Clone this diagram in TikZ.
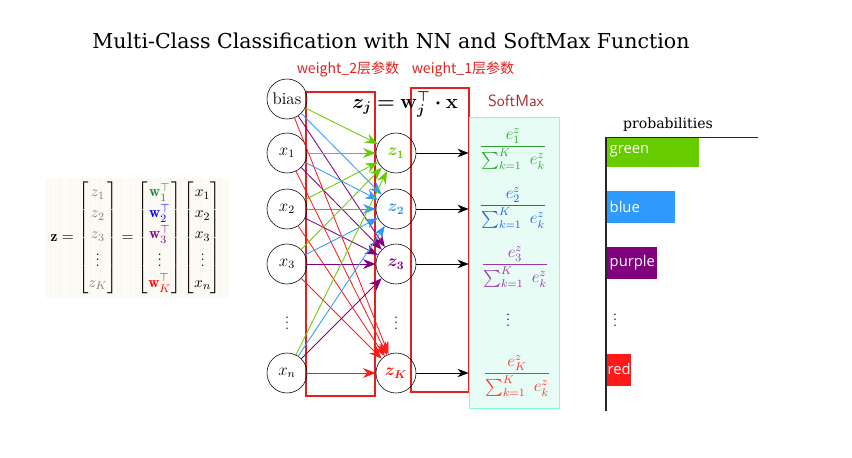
\documentclass[tikz,border=0pt]{standalone}
\usepackage{amsmath, amssymb, bm}
\usepackage{fontspec}
\newfontfamily\cjk{Noto Sans CJK SC}
\newfontfamily\slabfont{DejaVu Serif}
\newfontfamily\barfont{Open Sans}
\usetikzlibrary{arrows.meta, positioning, calc}

\definecolor{cgreen}{HTML}{66CC00}
\definecolor{cblue}{HTML}{2E9AFE}
\definecolor{cpurple}{HTML}{800080}
\definecolor{cred}{HTML}{FF1A1A}
\definecolor{boxred}{HTML}{E3201E}
\definecolor{smfill}{HTML}{E8FCF6}
\definecolor{smdraw}{HTML}{80FFD8}
\definecolor{smtitle}{HTML}{A52A2A}
\definecolor{fgreen}{HTML}{2EA62E}
\definecolor{fblue}{HTML}{2060E0}
\definecolor{fpurple}{HTML}{9A36A8}
\definecolor{fred}{HTML}{FF3030}
\definecolor{panel}{HTML}{FBFAF4}
\definecolor{panelgrid}{HTML}{F7F5EE}
\definecolor{mgreen}{HTML}{1E8C3C}

\begin{document}
\begin{tikzpicture}[x=0.025cm, y=-0.025cm,
  neuron/.style={draw, circle, minimum size=1cm, inner sep=0pt, font=\large},
  wbox/.style={draw=boxred, line width=1.3pt},
  arr/.style={-{Stealth[length=9pt, width=7pt]}, line width=0.6pt},
  sarr/.style={-{Stealth[length=8pt, width=6pt]}, line width=0.6pt},
  barlab/.style={anchor=west, inner sep=1pt, text=white, font=\barfont\fontsize{10.5}{12}\selectfont}
]
  \useasboundingbox (0,0) rectangle (852,458);

  % title
  \node[font=\slabfont\fontsize{14.6}{17}\selectfont] (title) at (391,41)
    {Multi-Class Classification with NN and SoftMax Function};

  % matrix form
  \fill[panel] (45,178) rectangle (229,298);
  \draw[panelgrid, step=10] (45,178) grid (229,298);
  \node[font=\fontsize{11}{13.6}\selectfont] (mat) at (136,238) {\renewcommand{\arraystretch}{1.1}%
    $\mathbf{z}=\begin{bmatrix}\color{gray}z_1\\ \color{gray}z_2\\ \color{gray}z_3\\ \vdots\\ \color{gray}z_K\end{bmatrix}
    =\begin{bmatrix}\color{mgreen}\mathbf{w}_1^{\top}\\ \color{blue}\mathbf{w}_2^{\top}\\
    \color{cpurple}\mathbf{w}_3^{\top}\\ \vdots\\ \color{red}\mathbf{w}_K^{\top}\end{bmatrix}
    \begin{bmatrix}x_1\\ x_2\\ x_3\\ \vdots\\ x_n\end{bmatrix}$};

  % weight boxes
  \draw[wbox] (306,92) rectangle (375,396);
  \draw[wbox] (411,88) rectangle (469,392);
  \node[font=\cjk\fontsize{10}{12}\selectfont, text=boxred] (w2lab) at (348,69) {weight\_2层参数};
  \node[font=\cjk\fontsize{10}{12}\selectfont, text=boxred] (w1lab) at (463,69) {weight\_1层参数};

  % input layer
  \node[neuron] (bias) at (287,99) {bias};
  \node[neuron] (x1) at (287,153) {$x_1$};
  \node[neuron] (x2) at (287,209) {$x_2$};
  \node[neuron] (x3) at (287,264) {$x_3$};
  \node (xd) at (287,319) {$\vdots$};
  \node[neuron] (xn) at (287,373) {$x_n$};

  % output layer
  \node[neuron, text=cgreen] (z1) at (396,153) {$\bm{z_1}$};
  \node[neuron, text=cblue] (z2) at (396,209) {$\bm{z_2}$};
  \node[neuron, text=cpurple] (z3) at (396,264) {$\bm{z_3}$};
  \node (zd) at (396,319) {$\vdots$};
  \node[neuron, text=cred] (zK) at (396,373) {$\bm{z_K}$};

  \node[font=\Large] (zeq) at (405,104) {$\bm{z_j=\mathbf{w}_j^{\top}\cdot\mathbf{x}}$};

  \foreach \s in {bias,x1,x2,x3,xn}
    \foreach \t/\c in {z1/cgreen,z2/cblue,z3/cpurple,zK/cred}
      \draw[arr, \c] (\s) -- (\t);

  % softmax
  \node[draw=smdraw, fill=smfill, minimum width=2.25cm, minimum height=7.275cm, inner sep=0pt] (smbox) at (514,262.5) {};
  \node[font=\sffamily\fontsize{11.5}{13}\selectfont, text=smtitle] (smlab) at (516,101) {SoftMax};
  \foreach \z in {z1,z2,z3,zK}
    \draw[sarr] (\z) -- (\z -| smbox.west);

  \node[font=\large, text=fgreen] (p1) at (513,149) {$\dfrac{e^{z}_{1}}{\sum_{k=1}^{K}\ e^{z}_{k}}$};
  \node[font=\large, text=fblue] (p2) at (513,208) {$\dfrac{e^{z}_{2}}{\sum_{k=1}^{K}\ e^{z}_{k}}$};
  \node[font=\large, text=fpurple] (p3) at (515,267) {$\dfrac{e^{z}_{3}}{\sum_{k=1}^{K}\ e^{z}_{k}}$};
  \node (pd) at (508,316) {$\vdots$};
  \node[font=\large, text=fred] (pK) at (517,376) {$\dfrac{e^{z}_{K}}{\sum_{k=1}^{K}\ e^{z}_{k}}$};

  % probabilities chart
  \coordinate (ax0) at (606,137);
  \coordinate (ax1) at (606,411);
  \coordinate (ax2) at (758,137);
  \node[font=\slabfont\fontsize{10}{12}\selectfont] (ptitle) at (668,125) {probabilities};
  \fill[cgreen] (607,137) rectangle (699,167);
  \fill[cblue] (607,191) rectangle (675,223);
  \fill[cpurple] (607,247) rectangle (657,279);
  \fill[cred] (607,354) rectangle (631,386);
  \node[barlab] (lgreen) at (608,151) {green};
  \node[barlab] (lblue) at (608,207) {blue};
  \node[barlab] (lpurple) at (608,263) {purple};
  \node (cd) at (615,316) {$\vdots$};
  \node[barlab] (lred) at (606,369) {red};
  \draw[line width=1.2pt, black!85] (ax0) -- (ax1);
  \draw[line width=0.6pt, black!85] (ax0) -- (ax2);
\end{tikzpicture}
\end{document}
